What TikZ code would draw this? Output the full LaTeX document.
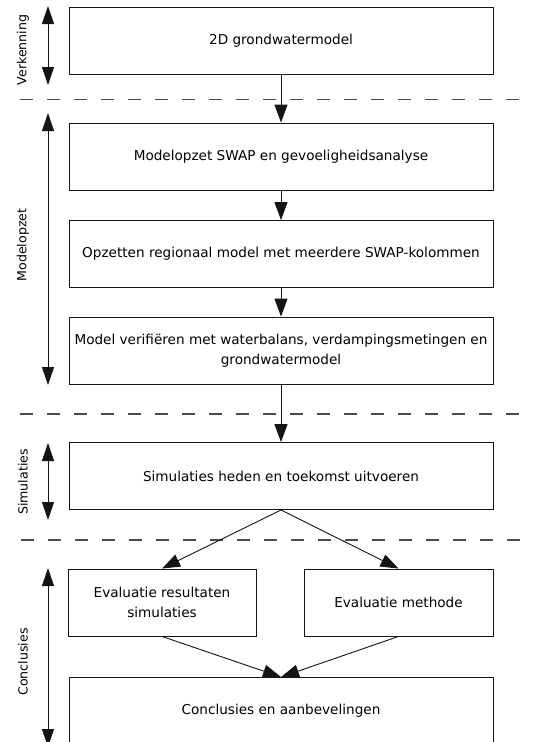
\documentclass[tikz,border=0pt]{standalone}
\usepackage{fontspec}
\setmainfont{DejaVu Sans}
\usetikzlibrary{arrows.meta, positioning}
\definecolor{lijn}{RGB}{20, 20, 20}
\definecolor{streep}{RGB}{75, 75, 75}
\tikzset{
    stap/.style={draw=lijn, rectangle, line width=0.9pt, minimum width=424pt, minimum height=67pt, inner sep=2pt, align=center, font=\fontsize{13.6}{19.5}\selectfont},
    stapSmal/.style={stap, minimum width=188pt},
    fase/.style={rotate=90, font=\fontsize{12.6}{14}\selectfont},
    pijl/.style={-{Triangle[length=18pt,width=13pt]}, lijn, line width=0.9pt},
    fasePijl/.style={{Triangle[length=18pt,width=12pt]}-{Triangle[length=18pt,width=12pt]}, lijn, line width=0.9pt},
    scheiding/.style={streep, line width=1.3pt, dash pattern=on 13pt off 14pt},
}

\begin{document}
\begin{tikzpicture}[x=1pt, y=-1pt]
        \useasboundingbox (0,0) rectangle (533,742);

        \node [stap] (b1) at (281,40.5) {2D grondwatermodel};
        \node [stap] (b2) at (281,156.5) {Modelopzet SWAP en gevoeligheidsanalyse};
        \node [stap] (b3) at (281,254) {Opzetten regionaal model met meerdere SWAP-kolommen};
        \node [stap] (b4) at (281,350.5) {Model verifiëren met waterbalans, verdampingsmetingen en\\grondwatermodel};
        \node [stap] (b5) at (281,476) {Simulaties heden en toekomst uitvoeren};
        \node [stapSmal] (b6) at (162,602.5) {Evaluatie resultaten\\simulaties};
        \node [stapSmal, minimum width=189pt] (b7) at (398.5,602.5) {Evaluatie methode};
        \node [stap] (b8) at (281,711) {Conclusies en aanbevelingen};

        \node [fase] (f1) at (23,50) {Verkenning};
        \node [fase] (f2) at (23,245) {Modelopzet};
        \node [fase] (f3) at (23,482) {Simulaties};
        \node [fase] (f4) at (23,662) {Conclusies};

        \coordinate (f1a) at (48,6);
        \coordinate (f1b) at (48,85);
        \coordinate (f2a) at (48,113);
        \coordinate (f2b) at (48,385);
        \coordinate (f3a) at (48,443);
        \coordinate (f3b) at (48,520);
        \coordinate (f4a) at (48,568);
        \coordinate (f4b) at (48,747);

        \coordinate (s1a) at (20,99.5);
        \coordinate (s1b) at (533,99.5);
        \coordinate (s2a) at (20,414);
        \coordinate (s2b) at (533,414);
        \coordinate (s3a) at (21,540);
        \coordinate (s3b) at (520,540);

        \draw [scheiding] (s1a) -- (s1b);
        \draw [scheiding] (s2a) -- (s2b);
        \draw [scheiding] (s3a) -- (s3b);

        \draw [fasePijl] (f1a) -- (f1b);
        \draw [fasePijl] (f2a) -- (f2b);
        \draw [fasePijl] (f3a) -- (f3b);
        \draw [fasePijl] (f4a) -- (f4b);

        \draw [pijl] (b1.south) -- (b2.north);
        \draw [pijl] (b2.south) -- (b3.north);
        \draw [pijl] (b3.south) -- (b4.north);
        \draw [pijl] (b4.south) -- (b5.north);
        \draw [pijl] (b5.south) -- (b6.north);
        \draw [pijl] (b5.south) -- (b7.north);
        \draw [pijl] (b6.south) -- (b8.north);
        \draw [pijl] (b7.south) -- (b8.north);
    \end{tikzpicture}
\end{document}
